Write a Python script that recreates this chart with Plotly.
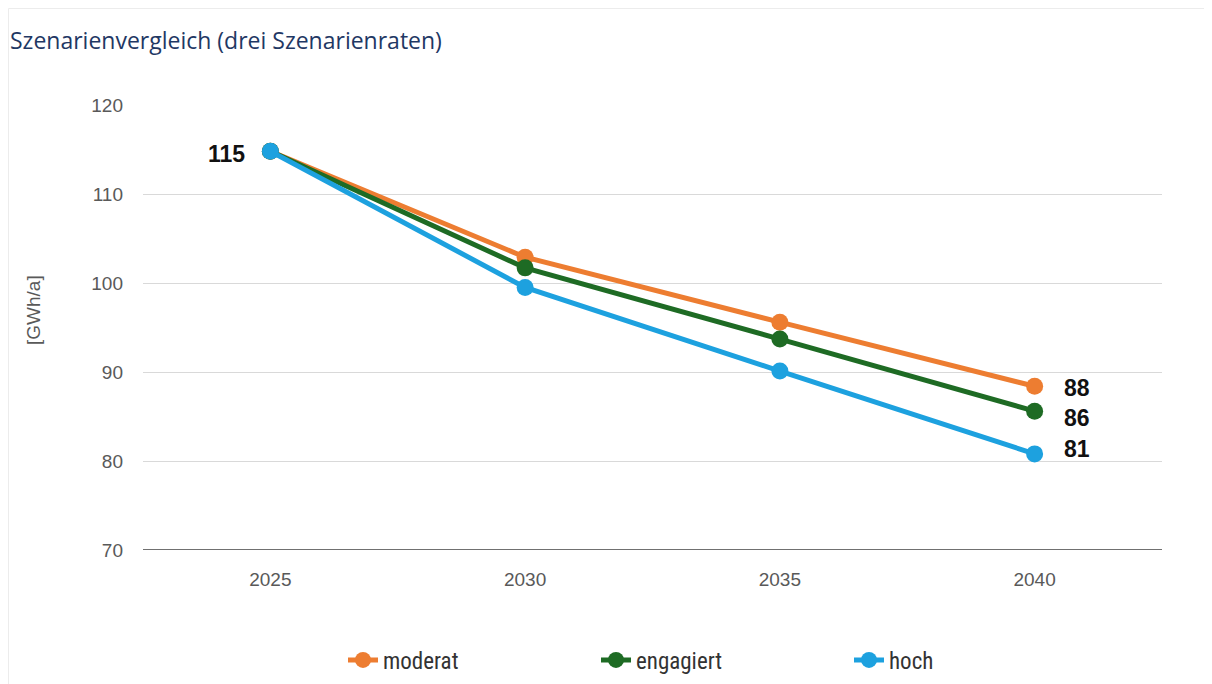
import plotly.graph_objects as go

years = ["2025", "2030", "2035", "2040"]
moderat = [114.8, 102.9, 95.6, 88.4]
engagiert = [114.8, 101.7, 93.7, 85.6]
hoch = [114.8, 99.5, 90.1, 80.8]
series_names = ["moderat", "engagiert", "hoch"]
series_values = [moderat, engagiert, hoch]
colors = ["#ED7D31", "#1E6B24", "#1DA1DF"]
y_ticks = [70, 80, 90, 100, 110, 120]

W, H = 1212, 684
L, T, PW, PH = 135, 97, 1019, 445

fig = go.Figure()
for name, vals, col in zip(series_names, series_values, colors):
    fig.add_trace(go.Scatter(
        x=years, y=vals, name=name, mode="lines+markers",
        line=dict(color=col, width=5),
        marker=dict(color=col, size=17),
    ))

label_font = dict(size=23, color="#111111", family="Liberation Sans, Arial, sans-serif")
fig.add_annotation(x=0, y=hoch[0], xref="x", yref="y", text=f"<b>{round(hoch[0])}</b>",
                   showarrow=False, xshift=-44, yshift=-3, font=label_font)
end_shifts = [-2, -7, 5]
last = len(years) - 1
for vals, ys in zip(series_values, end_shifts):
    fig.add_annotation(x=last, y=vals[-1], xref="x", yref="y", text=f"<b>{round(vals[-1])}</b>",
                       showarrow=False, xshift=42, yshift=ys, font=label_font)

# y axis title
fig.add_annotation(x=(25 - L) / PW, y=1 - (302 - T) / PH, xref="paper", yref="paper",
                   xanchor="center", yanchor="middle",
                   text="[GWh/a]", textangle=-90, showarrow=False,
                   font=dict(size=19, color="#595959", family="Liberation Sans, Arial, sans-serif"))

# faint frame at figure edge
fig.add_shape(type="rect", xref="paper", yref="paper",
              x0=-(L - 0.5) / PW, x1=(1197 - L) / PW, y0=-(H - T - PH + 5) / PH, y1=1 + (T - 0.5) / PH,
              line=dict(color="#ececec", width=1), fillcolor="rgba(0,0,0,0)", layer="below")

fig.update_layout(
    width=W, height=H,
    paper_bgcolor="white", plot_bgcolor="white",
    margin=dict(l=L, r=W - L - PW, t=T, b=H - T - PH, autoexpand=False),
    title=dict(text="Szenarienvergleich (drei Szenarienraten)", x=2 / W, xanchor="left",
               y=1 - 33 / H, yanchor="middle",
               font=dict(size=23, color="#1F3864", family="Open Sans, Noto Sans, sans-serif")),
    showlegend=True,
    legend=dict(orientation="h", x=(200) / PW, xanchor="left", y=-(652 - T - PH) / PH, yanchor="middle",
                entrywidth=208, entrywidthmode="pixels",
                font=dict(size=23, color="#333333", family="Liberation Sans Narrow, Roboto Condensed, Arial Narrow, sans-serif"),
                itemclick=False),
    font=dict(family="Liberation Sans, Arial, sans-serif"),
)
fig.update_xaxes(type="category", range=[-0.5, 3.5], showgrid=False,
                 showline=False, ticks="", tickfont=dict(size=19, color="#595959"),
                 ticklabelstandoff=16)
fig.update_yaxes(range=[70, 120], tickvals=y_ticks, showgrid=True, gridcolor="#d9d9d9", gridwidth=1,
                 zeroline=False, showline=False, ticks="",
                 tickfont=dict(size=19, color="#595959"), ticklabelstandoff=19)
fig.add_hline(y=70, line=dict(color="#404040", width=1.6), layer="below")

fig.write_html("out.html")
